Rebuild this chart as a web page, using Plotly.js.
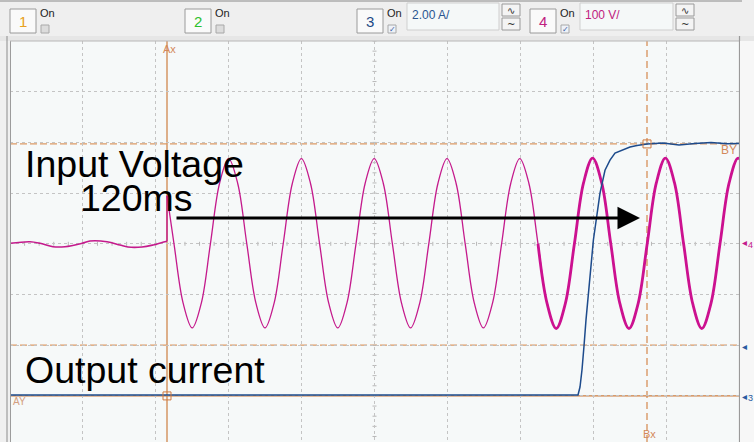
<!DOCTYPE html>
<html><head><meta charset="utf-8">
<script src="https://cdn.plot.ly/plotly-3.0.1.min.js"></script>
<style>html,body{margin:0;padding:0;background:#f0f0f0;overflow:hidden}#chart{width:754px;height:442px;}</style>
</head><body><div id="chart"></div>
<script>
// Time in ms relative to cursor Ax (trigger). Channel 4 = input voltage (V), channel 3 = output current (A)
const preTime = [-39.25, -34.25, -31.75, -28.5, -25.5, -21.25, -19.25, -15, -11.75, -9.75, -6.25, -3.5, -0.5, 0];
const preVolt = [1, 4.1, 1, -5.7, -5.7, 1, 5.5, 4.1, -2.4, -6.3, -6.3, -2.4, 4.1, 5];

const sineTime = [0, 1.75, 4.03, 6.3, 8.58, 10.85, 13.13, 15.4, 17.68, 19.95, 22.23, 24.5, 26.78, 29.05, 31.33, 33.6, 35.88,
  38.15, 40.43, 42.7, 44.98, 47.25, 49.53, 51.8, 54.08, 56.35, 58.63, 60.9, 63.18, 65.45, 67.73, 70.0, 72.28,
  74.55, 76.83, 79.1, 81.38, 83.65, 85.93, 88.2, 90.48, 92.75, 95.03, 97.3, 99.58, 101.85, 104.13, 106.4, 108.68,
  110.95, 113.23, 115.5, 117.78, 120.05, 122.33, 124.6, 126.88, 129.15, 131.43, 133.7, 135.98, 138.25, 140.53, 142.8, 145.08];
const sineVolt = [95, 0, -117, -166, -117, 0, 119, 168, 119, 0, -117, -166, -117, 0, 119, 168, 119,
  0, -117, -166, -117, 0, 119, 168, 119, 0, -117, -166, -117, 0, 119, 168, 119,
  0, -117, -166, -117, 0, 119, 168, 119, 0, -118, -167, -118, 0, 120, 169, 120,
  0, -118, -167, -118, 0, 120, 169, 120, 0, -118, -167, -118, 0, 120, 169, 120];
const thickFrom = 92.75;

const currTime = [-39.25, 100, 102.75, 103.25, 103.75, 104.25, 104.75, 106.6, 108.25, 109.5, 110.75, 112, 113.75, 115.75, 117.5, 120, 124, 128, 132, 136, 140, 143];
const currAmp  = [0.04, 0.04, 0.04, 0.35, 1.03, 1.97, 3.0, 6.15, 8.0, 8.9, 9.3, 9.58, 9.7, 9.82, 9.88, 9.94, 9.98, 9.9, 9.96, 10.0, 9.95, 9.96];

const cursorAx = 0, cursorBx = 120, cursorAy = 0, cursorBy = 9.94, levelCh3 = 2;

const xRange = [-39.25, 143], divT = 18.225;
const vRange = [-390.9, 400], iRange = [-1.818, 14];

const PINK = '#c41a8c', BLUE = '#1d4b8c', ORANGE = '#d4874c';
const X = px => (px - 10) / 729, Y = py => (442 - py) / 401;

const thickT = [], thickV = [];
sineTime.forEach((t, k) => { if (t >= thickFrom) { thickT.push(t); thickV.push(sineVolt[k]); } });

const traces = [
  {x: preTime, y: preVolt, mode: 'lines', line: {color: PINK, width: 1.6, shape: 'spline'}, hoverinfo: 'skip'},
  {x: [preTime[preTime.length - 1], sineTime[0]], y: [preVolt[preVolt.length - 1], sineVolt[0]], mode: 'lines', line: {color: PINK, width: 1.4}, hoverinfo: 'skip'},
  {x: sineTime, y: sineVolt, mode: 'lines', line: {color: PINK, width: 1.3, shape: 'spline', smoothing: 1}, hoverinfo: 'skip'},
  {x: thickT, y: thickV, mode: 'lines', line: {color: '#cc1190', width: 2.8, shape: 'spline', smoothing: 1}, hoverinfo: 'skip'},
  {x: currTime, y: currAmp, yaxis: 'y2', mode: 'lines', line: {color: BLUE, width: 1.5}, hoverinfo: 'skip'}
];

const shapes = [], ann = [];
function rectPx(x0, y0, x1, y1, fill, line, lw) {
  shapes.push({type: 'rect', xref: 'paper', yref: 'paper', x0: X(x0), x1: X(x1), y0: Y(y1), y1: Y(y0),
    fillcolor: fill, line: {color: line, width: lw === undefined ? 1 : lw}, layer: 'above'});
}
function linePx(x0, y0, x1, y1, color, w) {
  shapes.push({type: 'line', xref: 'paper', yref: 'paper', x0: X(x0), x1: X(x1), y0: Y(y0), y1: Y(y1),
    line: {color: color, width: w || 1}, layer: 'above'});
}
function textPx(x, y, text, size, color, anchor, family) {
  ann.push({xref: 'paper', yref: 'paper', x: X(x), y: Y(y), text: text, showarrow: false, borderpad: 0,
    xanchor: anchor || 'left', yanchor: 'middle', font: {size: size, color: color, family: family || 'Liberation Sans, Arial, sans-serif'}});
}

// top control bar
rectPx(-2, -2, 756, 36, '#efefef', '#efefef', 0);
linePx(0, 1, 742, 1, '#8a8a8a', 1);
rectPx(-2, 36, 756, 41, '#e6e6e6', '#e6e6e6', 0);
function chanBox(x, label, color, checked) {
  rectPx(x, 9, x + 26, 33, '#fafafa', '#9a9a9a');
  textPx(x + 13, 21.5, label, 15, color, 'center');
  textPx(x + 29, 13, 'On', 11, '#222');
  rectPx(x + 31, 25, x + 39, 33, checked ? '#eef2f8' : '#dcdcdc', '#a8a8a8');
  if (checked) textPx(x + 35, 29.5, '✓', 8, '#3a60a0', 'center', 'DejaVu Sans');
}
chanBox(10, '1', '#e8a020', false);
chanBox(185, '2', '#2ec02e', false);
chanBox(357, '3', '#1f4a86', true);
chanBox(530, '4', '#c0207f', true);
function field(x0, x1, text, color) {
  rectPx(x0, 3, x1, 30, '#f5f8f8', '#cfcfcf');
  textPx(x0 + 4, 15, text, 12, color);
  rectPx(x1 + 3, 4, x1 + 21, 16, '#f4f4f4', '#9a9a9a');
  rectPx(x1 + 3, 18, x1 + 21, 30, '#f4f4f4', '#9a9a9a');
  textPx(x1 + 12, 10, '∿', 10, '#333', 'center', 'DejaVu Sans');
  textPx(x1 + 12, 24, '~', 10, '#333', 'center', 'DejaVu Sans');
}
field(407, 499, '2.00 A/', '#2a5590');
field(580, 673, '100 V/', '#c0207f');

// scope frame
linePx(7, 36, 7, 442, '#8c8c8c', 1);
linePx(10.5, 41, 10.5, 442, '#9c9c9c', 1);
linePx(10, 41, 740, 41, '#b8b8b8', 1);
linePx(739.5, 36, 739.5, 442, '#9a9a9a', 1.2);
rectPx(740, 41, 756, 442, '#f7f7f7', '#f7f7f7', 0);

// minor ticks on centre lines
for (let k = 1; k < 50; k++) {
  const xt = xRange[0] + k * divT / 5;
  shapes.push({type: 'line', xref: 'x', yref: 'y', x0: xt, x1: xt, ysizemode: 'pixel', yanchor: 0, y0: -2, y1: 2, line: {color: '#b8b8b8', width: 1}, layer: 'below'});
}
for (let k = -19; k <= 20; k++) {
  const yt = k * 20, xc = xRange[0] + 5 * divT;
  shapes.push({type: 'line', xref: 'x', yref: 'y', xsizemode: 'pixel', xanchor: xc, x0: -2, x1: 2, y0: yt, y1: yt, line: {color: '#b8b8b8', width: 1}, layer: 'below'});
}

// cursors
shapes.push({type: 'line', xref: 'x', yref: 'paper', x0: cursorAx, x1: cursorAx, y0: 0, y1: 1, line: {color: '#cd7d3e', width: 1.2}, layer: 'below'});
shapes.push({type: 'line', xref: 'x', yref: 'paper', x0: cursorBx, x1: cursorBx, y0: 0, y1: 1, line: {color: ORANGE, width: 1.2, dash: '7px,4px'}, layer: 'below'});
shapes.push({type: 'line', xref: 'paper', yref: 'y2', x0: 0, x1: 1, y0: cursorAy, y1: cursorAy, line: {color: '#cd7d3e', width: 1.2}, layer: 'below'});
shapes.push({type: 'line', xref: 'paper', yref: 'y2', x0: 0, x1: 1, y0: cursorBy, y1: cursorBy, line: {color: '#dc9a66', width: 1.2, dash: '7px,3px'}, layer: 'below'});
shapes.push({type: 'line', xref: 'paper', yref: 'y2', x0: 0, x1: 1, y0: levelCh3, y1: levelCh3, line: {color: '#dc9a66', width: 1.2, dash: '7px,3px'}, layer: 'below'});
[[cursorAx, cursorAy], [cursorBx, cursorBy]].forEach(p => shapes.push({type: 'rect', xref: 'x', yref: 'y2', xsizemode: 'pixel', xanchor: p[0], x0: -4, x1: 4, ysizemode: 'pixel', yanchor: p[1], y0: -4, y1: 4, line: {color: '#d07a40', width: 1}, layer: 'above'}));

ann.push({xref: 'x', yref: 'paper', x: cursorAx, y: Y(49), text: 'Ax', showarrow: false, xanchor: 'center', yanchor: 'middle', xshift: 2, font: {size: 11, color: '#d4895a', family: 'Liberation Sans, Arial'}});
ann.push({xref: 'x', yref: 'paper', x: cursorBx, y: Y(434), text: 'Bx', showarrow: false, xanchor: 'center', yanchor: 'middle', xshift: 2, borderpad: 0, font: {size: 11, color: '#d4895a', family: 'Liberation Sans, Arial'}});
ann.push({xref: 'paper', yref: 'y2', x: X(11), y: cursorAy, text: 'AY', showarrow: false, xanchor: 'left', yanchor: 'top', yshift: 2, font: {size: 10, color: '#d4a080', family: 'Liberation Sans, Arial'}});
ann.push({xref: 'paper', yref: 'y2', x: X(739), y: cursorBy, text: 'BY', showarrow: false, xanchor: 'right', yanchor: 'top', yshift: 3, font: {size: 12, color: '#d4895a', family: 'Liberation Sans, Arial'}});

// right-edge channel markers
textPx(741, 243, '◂', 10, PINK, 'left', 'DejaVu Sans');
textPx(747, 245, '4', 9, PINK, 'left');
textPx(741, 346, '◂', 10, '#2a5aa0', 'left', 'DejaVu Sans');
textPx(741, 396, '◂', 10, '#2a5aa0', 'left', 'DejaVu Sans');
textPx(747, 398, '3', 9, '#2a5aa0', 'left');

// overlay texts
textPx(24, 164, 'Input Voltage', 37.5, '#000', 'left');
textPx(79, 198, '120ms', 37.5, '#000', 'left');
textPx(24, 370, 'Output current', 37.5, '#000', 'left');

// 120 ms arrow
ann.push({xref: 'x', yref: 'y', axref: 'x', ayref: 'y', x: 118.25, y: 51, ax: 2, ay: 51, text: '', showarrow: true,
  arrowhead: 2, arrowsize: 1.5, arrowwidth: 3, arrowcolor: '#000'});

const gridAxis = {showgrid: true, gridcolor: '#c4c4c4', griddash: 'dot', gridwidth: 1, zeroline: false, showline: false, showticklabels: false, ticks: ''};
const layout = {
  width: 754, height: 442, margin: {l: 10, r: 15, t: 41, b: 0},
  paper_bgcolor: '#f0f0f0', plot_bgcolor: '#f6f9f9', showlegend: false,
  xaxis: Object.assign({range: xRange, tick0: xRange[0], dtick: divT}, gridAxis),
  yaxis: Object.assign({range: vRange, tick0: 0, dtick: 100}, gridAxis),
  yaxis2: {range: iRange, overlaying: 'y', visible: false, showgrid: false},
  shapes: shapes, annotations: ann
};
Plotly.newPlot('chart', traces, layout, {staticPlot: true, displayModeBar: false});
</script></body></html>
